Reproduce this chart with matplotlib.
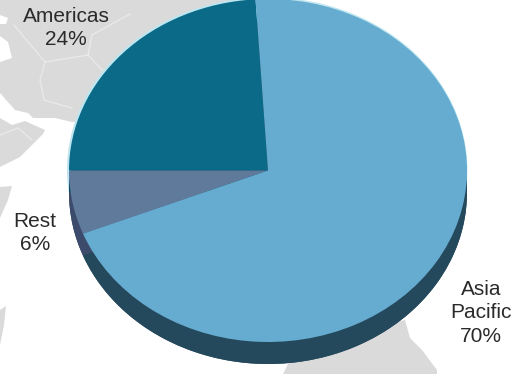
import matplotlib
matplotlib.use('Agg')
import matplotlib.pyplot as plt
from matplotlib.patches import Polygon, Rectangle

W, H = 522, 374

labels = ['Americas\n24%', 'Rest\n6%', 'Asia\nPacific\n70%']
values = [24, 6, 70]
top_colors = ['#0a6a87', '#5f7a9b', '#66abd0']
side_colors = ['#0a4a60', '#3c4a6c', '#25495c']
label_px = [(66, 28), (35, 233), (481, 313)]

# land shapes of the map behind the pie, in image pixels
land = [
    [(0, 0), (258, 0), (200, 120), (72, 122), (55, 118), (33, 118), (28, 113),
     (15, 110), (0, 93)],
    [(0, 118), (12, 125), (25, 121), (45, 130), (43, 134), (20, 157), (0, 167)],
    [(0, 187), (12, 186), (8, 200), (0, 218)],
    [(0, 310), (6, 306), (4, 325), (0, 345)],
    [(283, 374), (287, 366), (300, 340), (405, 320), (410, 338), (422, 350),
     (437, 370), (437, 374)],
]
lakes = [
    [(0, 15), (8, 18), (6, 24), (0, 24)],
    [(0, 36), (8, 42), (12, 58), (0, 62)],
]
borders = [
    [(14, 25), (45, 62), (40, 80), (44, 100), (72, 108)],
    [(45, 62), (88, 55), (104, 72), (92, 88)],
    [(88, 55), (92, 35), (130, 14)],
    [(0, 135), (18, 128), (32, 140)],
]

fig = plt.figure(figsize=(W / 100, H / 100), dpi=100)

bg = fig.add_axes([0, 0, 1, 1])
bg.set_xlim(0, W)
bg.set_ylim(H, 0)
bg.axis('off')
for shape in land:
    bg.add_patch(Polygon(shape, closed=True, fc='#dadada', ec='none'))
for shape in lakes:
    bg.add_patch(Polygon(shape, closed=True, fc='white', ec='none'))
for line in borders:
    bg.plot(*zip(*line), color='white', lw=1, alpha=0.4)

# the pie axes covers the image, with x and y radii set by the limits
ax = fig.add_axes([0, 0, 1, 1])
ax.patch.set_alpha(0)
cx, cy, rx, ry, depth = 268, 170.5, 199, 171.5, 22

# pale rim, then the side wall pushed down, then the top face
ax.pie([1], colors=['#bde6f0'], center=(-0.004, 0.004), radius=1.006)
ax.pie([1], colors=[side_colors[2]], center=(0, -depth / ry), radius=1)
side_wedges, _ = ax.pie(values, colors=side_colors, startangle=93.6,
                        center=(0, -depth / ry), radius=1)
ax.pie(values, colors=top_colors, startangle=93.6, center=(0, 0), radius=1)
ax.set_aspect('auto')
ax.set_xlim(-cx / rx, (W - cx) / rx)
ax.set_ylim(-(H - cy) / ry, cy / ry)

# the purple part of the wall stops just under the Rest slice
wall_clip = Rectangle((-2, (cy - 240) / ry), 4, 4, transform=ax.transData)
side_wedges[1].set_clip_path(wall_clip)

for text, (x, y) in zip(labels, label_px):
    fig.text(x / W, 1 - y / H, text, ha='center', va='center', fontsize=15,
             family='Liberation Sans', color='#2a2a2a', linespacing=1.33)

fig.savefig('out.png', dpi=100)
